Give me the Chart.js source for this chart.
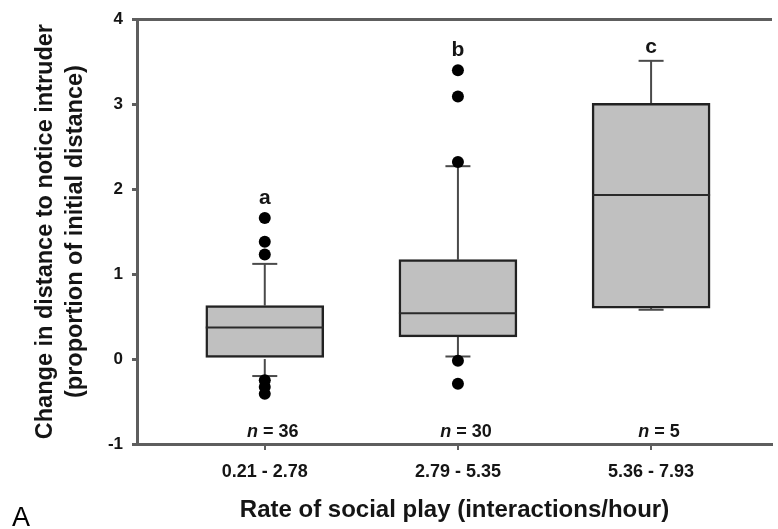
<!DOCTYPE html>
<html><head><meta charset="utf-8">
<script src="https://cdn.jsdelivr.net/npm/chart.js@4/dist/chart.umd.min.js"></script>
<style>html,body{margin:0;padding:0;background:#fff;}#wrap{width:778px;height:529px;position:relative;}</style>
</head><body><div id="wrap"><canvas id="c" width="778" height="529"></canvas></div>
<script>
// ---- data ----
const categories   = ['0.21 - 2.78', '2.79 - 5.35', '5.36 - 7.93'];
const q1           = [0.00, 0.26, 0.60];
const medians      = [0.37, 0.54, 1.93];
const q3           = [0.63, 1.17, 3.01];
const whiskerLow   = [-0.20, 0.03, 0.58];
const whiskerHigh  = [1.12, 2.27, 3.51];
const outliers     = [[1.66, 1.38, 1.23, -0.25, -0.33, -0.41], [3.40, 3.09, 2.32, -0.02, -0.29], []];
const sampleSizes  = [36, 30, 5];
const groupLetters = ['a', 'b', 'c'];
const yTicks       = [-1, 0, 1, 2, 3, 4];

// ---- styles ----
const FONT = "'Liberation Sans', Arial, Helvetica, sans-serif";
const AXIS = '#5e5e5e';
const INK = '#151515';
const CAP_HALF = 12.5;
const DOT_R = 6;

const boxData = categories.map((c, i) => ({ x: i + 1, y: [q1[i], q3[i]] }));
const outlierData = [];
outliers.forEach((arr, i) => arr.forEach(v => outlierData.push({ x: i + 1, y: v })));

const boxParts = {
  id: 'boxParts',
  beforeDatasetsDraw(chart) {
    const { ctx, scales: { x, y } } = chart;
    ctx.save();
    ctx.strokeStyle = '#4a4a4a';
    ctx.lineWidth = 2;
    categories.forEach((c, i) => {
      const px = x.getPixelForValue(i + 1);
      [[q3[i], whiskerHigh[i]], [q1[i], whiskerLow[i]]].forEach(([a, b]) => {
        ctx.beginPath();
        ctx.moveTo(px, y.getPixelForValue(a));
        ctx.lineTo(px, y.getPixelForValue(b));
        ctx.stroke();
        const py = y.getPixelForValue(b);
        ctx.beginPath();
        ctx.moveTo(px - CAP_HALF, py);
        ctx.lineTo(px + CAP_HALF, py);
        ctx.stroke();
      });
    });
    ctx.restore();
  },
  afterDatasetsDraw(chart) {
    const { ctx, scales: { x, y }, chartArea } = chart;
    const meta = chart.getDatasetMeta(0);
    ctx.save();
    // medians
    ctx.strokeStyle = '#2a2a2a';
    ctx.lineWidth = 2;
    meta.data.forEach((bar, i) => {
      const py = y.getPixelForValue(medians[i]);
      ctx.beginPath();
      ctx.moveTo(bar.x - bar.width / 2, py);
      ctx.lineTo(bar.x + bar.width / 2, py);
      ctx.stroke();
    });
    // group letters
    ctx.fillStyle = INK;
    ctx.textAlign = 'center';
    ctx.textBaseline = 'middle';
    ctx.font = 'bold 21px ' + FONT;
    categories.forEach((c, i) => {
      const topOut = outliers[i].length ? Math.max(...outliers[i]) : -Infinity;
      let top;
      if (topOut > whiskerHigh[i]) top = y.getPixelForValue(topOut) - DOT_R;
      else top = y.getPixelForValue(whiskerHigh[i]);
      ctx.fillText(groupLetters[i], x.getPixelForValue(i + 1), top - 14);
    });
    // sample sizes
    const py = chartArea.bottom - 12;
    categories.forEach((c, i) => {
      const px = x.getPixelForValue(i + 1) + 8;
      const f1 = 'italic bold 18px ' + FONT, f2 = 'bold 18px ' + FONT;
      const s2 = ' = ' + sampleSizes[i];
      ctx.font = f1; const w1 = ctx.measureText('n').width;
      ctx.font = f2; const w2 = ctx.measureText(s2).width;
      const start = px - (w1 + w2) / 2;
      ctx.textAlign = 'left';
      ctx.font = f1; ctx.fillText('n', start, py);
      ctx.font = f2; ctx.fillText(s2, start + w1, py);
    });
    // panel label
    ctx.font = '27px ' + FONT;
    ctx.textAlign = 'left';
    ctx.textBaseline = 'alphabetic';
    ctx.fillStyle = '#000';
    ctx.fillText('A', 12, 526);
    ctx.restore();
  }
};

new Chart(document.getElementById('c'), {
  type: 'bar',
  data: {
    datasets: [
      {
        type: 'bar',
        data: boxData,
        backgroundColor: '#c0c0c0',
        borderColor: '#222222',
        borderWidth: 2.5,
        borderSkipped: false,
        barThickness: 118,
        order: 2
      },
      {
        type: 'scatter',
        data: outlierData,
        backgroundColor: '#000',
        borderColor: '#000',
        pointRadius: DOT_R,
        pointBorderWidth: 0,
        order: 1
      }
    ]
  },
  options: {
    responsive: false,
    animation: false,
    devicePixelRatio: 1,
    layout: { padding: { top: 14, left: 0, right: 0, bottom: 0 } },
    plugins: { legend: { display: false }, tooltip: { enabled: false } },
    scales: {
      x: {
        type: 'linear',
        offset: false,
        min: 0.3385,
        max: 3.626,
        afterBuildTicks(s) { s.ticks = categories.map((c, i) => ({ value: i + 1 })); },
        afterFit(s) { s.height = 85; },
        ticks: {
          callback: v => categories[Math.round(v) - 1],
          font: { family: FONT, size: 18, weight: 'bold' },
          color: INK,
          padding: 11,
          maxRotation: 0,
          autoSkip: false
        },
        grid: { offset: false, drawOnChartArea: false, drawTicks: true, tickLength: 6, color: AXIS, lineWidth: 2 },
        border: { display: true, color: AXIS, width: 3 },
        title: {
          display: true,
          text: 'Rate of social play (interactions/hour)',
          font: { family: FONT, size: 24, weight: 'bold', lineHeight: 1.2 },
          color: INK,
          padding: { top: 0, bottom: 4 }
        }
      },
      y: {
        type: 'linear',
        min: -1,
        max: 4,
        afterBuildTicks(s) { s.ticks = yTicks.map(v => ({ value: v })); },
        afterFit(s) { s.width = 137; },
        ticks: {
          font: { family: FONT, size: 17, weight: 'bold' },
          color: INK,
          padding: 9
        },
        grid: {
          drawOnChartArea: true,
          drawTicks: true,
          tickLength: 5,
          color: c => (c.tick && c.tick.value === 4 ? AXIS : 'rgba(0,0,0,0)'),
          tickColor: AXIS,
          lineWidth: 3
        },
        border: { display: true, color: AXIS, width: 3 },
        title: {
          display: true,
          text: ['Change in distance to notice intruder', '(proportion of initial distance)'],
          font: { family: FONT, size: 23.5, weight: 'bold', lineHeight: 1.28 },
          color: INK,
          padding: { top: 30, bottom: 0 }
        }
      }
    }
  },
  plugins: [boxParts]
});
</script>
</body></html>
